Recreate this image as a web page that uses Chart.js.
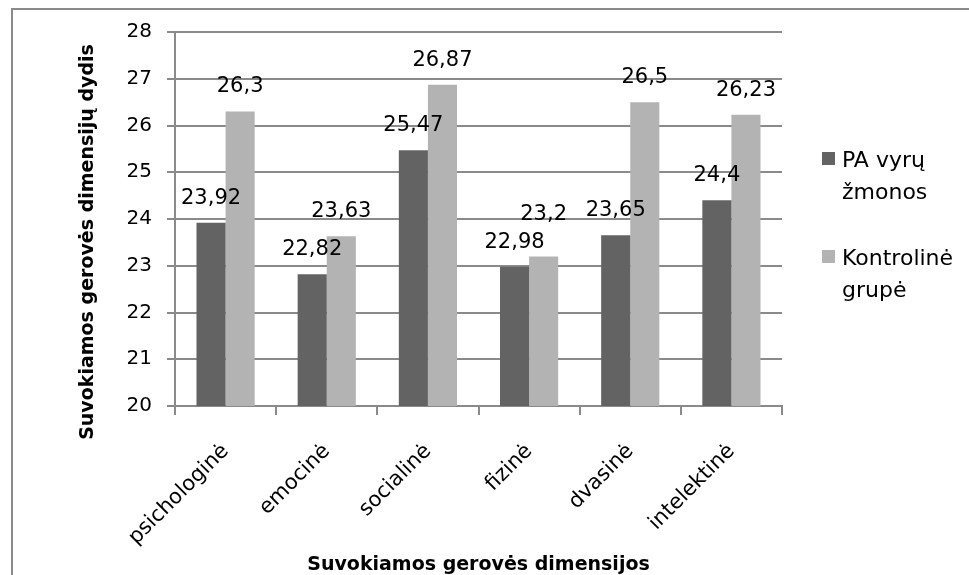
<!DOCTYPE html>
<html>
<head>
<meta charset="utf-8">
<script src="https://cdn.jsdelivr.net/npm/chart.js@4.4.0/dist/chart.umd.min.js"></script>
<style>
  html, body { margin: 0; padding: 0; background: #fff; overflow: hidden; }
  #wrap { position: relative; width: 969px; height: 575px; overflow: hidden; }
  #frame { position: absolute; left: 11px; top: 8px; width: 1000px; height: 620px;
           border: 2px solid #8a8a8a; box-sizing: border-box; }
  #c { position: absolute; left: 0; top: 0; }
</style>
</head>
<body>
<div id="wrap">
  <div id="frame"></div>
  <canvas id="c" width="969" height="575"></canvas>
</div>
<script>
// Perceived well-being dimensions: wives of PA men vs. control group
const categories = ['psichologinė', 'emocinė', 'socialinė', 'fizinė', 'dvasinė', 'intelektinė'];
const paWives = [23.92, 22.82, 25.47, 22.98, 23.65, 24.4];
const controlGroup = [26.3, 23.63, 26.87, 23.2, 26.5, 26.23];
const seriesNames = ['PA vyrų žmonos', 'Kontrolinė grupė'];
const legendLines = [['PA vyrų', 'žmonos'], ['Kontrolinė', 'grupė']];
const yTicks = [20, 21, 22, 23, 24, 25, 26, 27, 28];
const xTitle = 'Suvokiamos gerovės dimensijos';
const yTitle = 'Suvokiamos gerovės dimensijų dydis';

const FONT = '"DejaVu Sans", sans-serif';
const GRID = '#8a8a8a';
const seriesColors = ['#636363', '#b3b3b3'];

// value labels above each bar (decimal comma); a label that would collide
// with the neighbouring label of the first series is lifted above it
const valueLabels = {
  id: 'valueLabels',
  afterDatasetsDraw(chart) {
    const ctx = chart.ctx;
    const gap = 19, textH = 16, lift = 12;
    ctx.save();
    ctx.font = '21px ' + FONT;
    ctx.fillStyle = '#000';
    ctx.textAlign = 'center';
    ctx.textBaseline = 'alphabetic';
    const placed = [];
    chart.data.datasets.forEach((ds, i) => {
      chart.getDatasetMeta(i).data.forEach((bar, j) => {
        const text = String(ds.data[j]).replace('.', ',');
        const w = ctx.measureText(text).width;
        let base = bar.y - gap;
        const prev = placed[j];
        if (prev) {
          const overlapX = Math.abs(prev.x - bar.x) < (prev.w + w) / 2;
          const overlapY = Math.abs(prev.base - base) < textH + 4;
          if (overlapX && overlapY) base = Math.min(base, prev.base - textH - lift);
        }
        ctx.fillText(text, bar.x, base);
        if (i === 0) placed[j] = { x: bar.x, w, base };
      });
    });
    ctx.restore();
  }
};

// rotated y-axis title
const yAxisTitle = {
  id: 'yAxisTitle',
  afterDraw(chart) {
    const ctx = chart.ctx;
    const area = chart.chartArea;
    ctx.save();
    ctx.translate(88, (area.top + area.bottom) / 2 + 23);
    ctx.rotate(-Math.PI / 2);
    ctx.font = 'bold 19px ' + FONT;
    ctx.fillStyle = '#000';
    ctx.textAlign = 'center';
    ctx.textBaseline = 'middle';
    ctx.fillText(yTitle, 0, 0);
    ctx.restore();
  }
};

// legend on the right with two-line entries
const sideLegend = {
  id: 'sideLegend',
  afterDraw(chart) {
    const ctx = chart.ctx;
    const area = chart.chartArea;
    const x0 = area.right + 40;
    const tops = [152, 250];
    ctx.save();
    ctx.font = '22px ' + FONT;
    ctx.textAlign = 'left';
    ctx.textBaseline = 'alphabetic';
    chart.data.datasets.forEach((ds, i) => {
      const top = tops[i];
      ctx.fillStyle = ds.backgroundColor;
      ctx.fillRect(x0, top, 13, 13);
      ctx.fillStyle = '#000';
      legendLines[i].forEach((line, k) => {
        ctx.fillText(line, x0 + 20, top + 15 + k * 32);
      });
    });
    ctx.restore();
  }
};

new Chart(document.getElementById('c'), {
  type: 'bar',
  data: {
    labels: categories,
    datasets: [
      { label: seriesNames[0], data: paWives, backgroundColor: seriesColors[0] },
      { label: seriesNames[1], data: controlGroup, backgroundColor: seriesColors[1] }
    ]
  },
  options: {
    responsive: false,
    animation: false,
    devicePixelRatio: 1,
    categoryPercentage: 0.575,
    barPercentage: 1.0,
    layout: { padding: { left: 0, right: 187, top: 32, bottom: 0 } },
    plugins: { legend: { display: false }, tooltip: { enabled: false } },
    scales: {
      x: {
        grid: { offset: true, drawOnChartArea: false, drawTicks: true, tickLength: 9, color: GRID, lineWidth: 2 },
        border: { color: GRID, width: 2 },
        ticks: { color: '#000', font: { family: FONT, size: 21 }, minRotation: 45, maxRotation: 45, padding: 24, autoSkip: false },
        title: { display: true, text: xTitle, color: '#000',
                 font: { family: FONT, size: 19, weight: 'bold', lineHeight: 1.0 }, padding: { top: 0, bottom: 0 } },
        afterFit(scale) { scale.height = 169; }
      },
      y: {
        min: 20, max: 28,
        grid: { color: GRID, lineWidth: 2, tickLength: 8 },
        border: { color: GRID, width: 2 },
        ticks: { color: '#000', font: { family: FONT, size: 20 }, padding: 15, stepSize: 1,
                 callback: (v) => yTicks.includes(v) ? String(v) : '' },
        afterFit(scale) { scale.width = 175; }
      }
    }
  },
  plugins: [valueLabels, yAxisTitle, sideLegend]
});
</script>
</body>
</html>
